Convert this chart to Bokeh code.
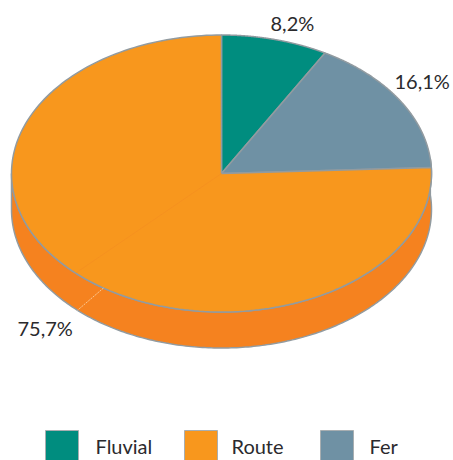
import numpy as np
from bokeh.plotting import figure
from bokeh.models import Range1d
from bokeh.core.properties import value
from bokeh.embed import file_html
from bokeh.resources import INLINE

categories = ["Fluvial", "Fer", "Route"]
shares = [8.2, 16.1, 75.7]
share_labels = ["8,2%", "16,1%", "75,7%"]
legend_order = ["Fluvial", "Route", "Fer"]
colors = {"Fluvial": "#008D7F", "Fer": "#6F91A4", "Route": "#F8971D"}
WALL = "#F5821F"
EDGE = "#929BA0"
TEXT = "#2B2A2D"
FONT = value("Lato")

W, H = 453, 460
CX, CY, RX, RY, DEPTH = 221, 173, 210, 138.5, 36

p = figure(width=W, height=H, output_backend="svg", toolbar_location=None,
           x_range=Range1d(0, W), y_range=Range1d(H, 0),
           min_border=0, outline_line_color=None, background_fill_color="white",
           border_fill_color="white")
p.axis.visible = False
p.grid.visible = False

def rim(t, dy=0):
    return CX + RX * np.sin(t), CY + dy - RY * np.cos(t)

# Side wall (front half of the pie)
t = np.radians(np.linspace(84, 270, 240))
x1, y1 = rim(t)
x2, y2 = rim(t[::-1], DEPTH)
p.patch(np.r_[x1, x2], np.r_[y1, y2], fill_color=WALL, line_color=EDGE, line_width=1.5)

# Top slices
edges = np.cumsum([0] + shares) / 100 * 2 * np.pi
for name, a, b in zip(categories, edges[:-1], edges[1:]):
    t = np.linspace(a, b, 200)
    x, y = rim(t)
    p.patch(np.r_[CX, x], np.r_[CY, y], fill_color=colors[name], line_color=EDGE, line_width=1.5)

# Thin seams
sx0, sy0 = rim(np.radians(214.2))
sx1, sy1 = rim(np.radians(223.3), DEPTH)
p.line([sx0, sx1], [sy0, sy1], line_color="#FBD9B0", line_width=0.8, line_dash="2 1")
xf, yf = rim(np.radians(224))
p.line([CX, xf], [CY, yf], line_color="#F58F1F", line_width=0.8)

# Share labels
p.text([270, 394, 17], [22, 80, 327], text=share_labels, text_font=FONT, text_font_size="20px",
       text_color=TEXT, text_baseline="alphabetic", text_align="left")

# Legend
sw_x = [45, 184, 320]
lab_x = [95, 231, 369]
for name, sx, lx in zip(legend_order, sw_x, lab_x):
    p.quad(left=sx, right=sx + 33, top=430, bottom=H + 10, fill_color=colors[name],
           line_color="#A8AEB1", line_width=1)
    p.text([lx], [445], text=[name], text_font=FONT, text_font_size="20px", text_color=TEXT,
           text_baseline="alphabetic")

open("out.html", "w").write(file_html(p, INLINE))
